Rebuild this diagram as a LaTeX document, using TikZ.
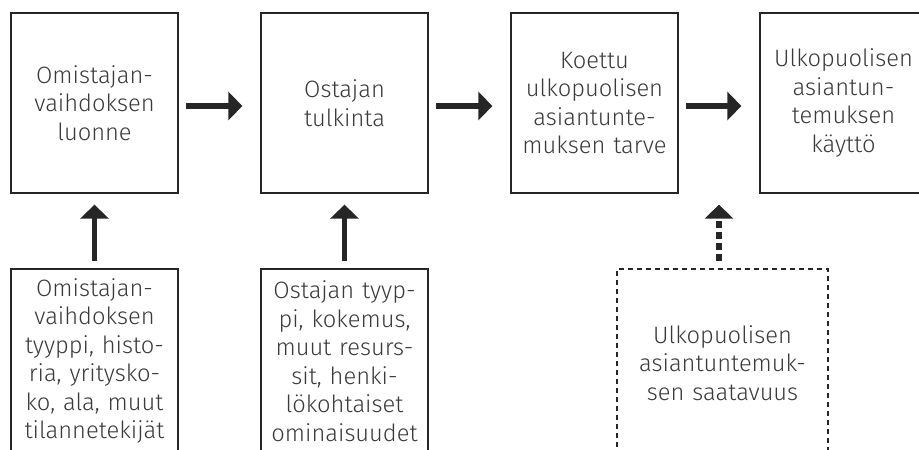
\documentclass[tikz,border=0pt]{standalone}
\usepackage{fontspec}
\setmainfont{Fira Sans Light}
\usetikzlibrary{arrows.meta,calc}
\definecolor{ink}{HTML}{262626}
\definecolor{txt}{HTML}{3A3A3A}
\begin{document}
\begin{tikzpicture}[x=1pt,y=-1pt,
  box/.style={draw=ink, line width=1.3pt, minimum width=167pt, minimum height=180pt,
    inner sep=0pt, text width=160pt, align=center,
    font=\fontsize{23.7}{28.5}\selectfont, text=txt},
  openbox/.style={box, minimum height=184pt},
  dbox/.style={box, dash pattern=on 5pt off 4pt, minimum width=211pt, minimum height=188pt, text width=200pt},
  flow/.style={-{Triangle[width=28pt,length=14pt]}, line width=5.5pt, draw=ink},
  dflow/.style={flow, dash pattern=on 7pt off 4pt}]
\useasboundingbox (0,0) rectangle (919,450);
\clip (0,0) rectangle (919,450);
\node[box] (b1) at (94.5,103) {Omistajan-\\vaihdoksen\\luonne};
\node[box] (b2) at (344.5,103) {Ostajan\\tulkinta};
\node[box] (b3) at (594.5,103) {Koettu\\ulkopuolisen\\asiantunte-\\muksen tarve};
\node[box] (b4) at (843.5,103) {Ulkopuolisen\\asiantun-\\temuksen\\käyttö};
\node[openbox] (b5) at (94.5,361) {Omistajan-\\vaihdoksen\\tyyppi, histo-\\ria, yritysko-\\ko, ala, muut\\tilannetekijät};
\node[openbox] (b6) at (344.5,361) {Ostajan tyyp-\\pi, kokemus,\\muut resurs-\\sit, henki-\\lökohtaiset\\ominaisuudet};
\node[dbox] (b7) at (722.5,363) {Ulkopuolisen\\asiantuntemuk-\\sen saatavuus};
\coordinate (gap) at ($(b3.south east)!0.5!(b4.south west)$);
\draw[flow, shorten <=7pt, shorten >=18pt] ([yshift=-3pt]b1.east) -- ([yshift=-3pt]b2.west);
\draw[flow, shorten <=7pt, shorten >=18pt] ([yshift=-3pt]b2.east) -- ([yshift=-3pt]b3.west);
\draw[flow, shorten <=7pt, shorten >=18pt] ([yshift=-3pt]b3.east) -- ([yshift=-3pt]b4.west);
\draw[flow, shorten <=7pt, shorten >=11pt] (b5.north) -- (b1.south);
\draw[flow, shorten <=7pt, shorten >=11pt] (b6.north) -- (b2.south);
\draw[dflow, shorten <=7pt, shorten >=11pt] (b7.north -| gap) -- (gap);
\end{tikzpicture}
\end{document}
